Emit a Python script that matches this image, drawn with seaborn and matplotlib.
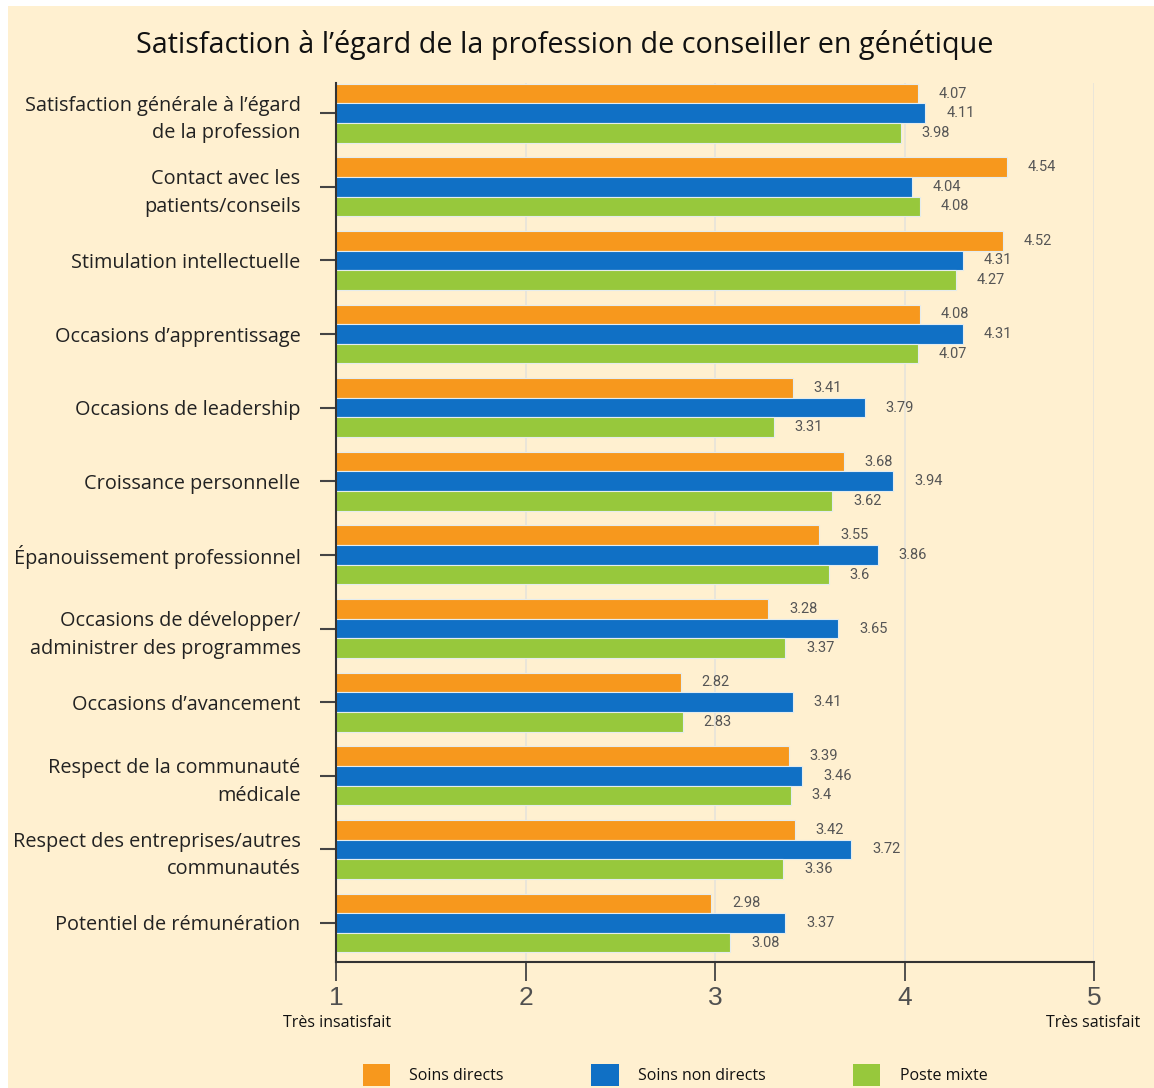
import matplotlib
matplotlib.use("Agg")
import matplotlib.pyplot as plt
from matplotlib.patches import Patch, Rectangle
import seaborn as sns
import pandas as pd

categories = [
    "Satisfaction générale à l’égard\nde la profession",
    "Contact avec les\npatients/conseils",
    "Stimulation intellectuelle",
    "Occasions d’apprentissage",
    "Occasions de leadership",
    "Croissance personnelle",
    "Épanouissement professionnel",
    "Occasions de développer/\nadministrer des programmes",
    "Occasions d’avancement",
    "Respect de la communauté\nmédicale",
    "Respect des entreprises/autres\ncommunautés",
    "Potentiel de rémunération",
]
series_names = ["Soins directs", "Soins non directs", "Poste mixte"]
soins_directs = [4.07, 4.54, 4.52, 4.08, 3.41, 3.68, 3.55, 3.28, 2.82, 3.39, 3.42, 2.98]
soins_non_directs = [4.11, 4.04, 4.31, 4.31, 3.79, 3.94, 3.86, 3.65, 3.41, 3.46, 3.72, 3.37]
poste_mixte = [3.98, 4.08, 4.27, 4.07, 3.31, 3.62, 3.6, 3.37, 2.83, 3.4, 3.36, 3.08]
value_labels = [
    ["4.07", "4.54", "4.52", "4.08", "3.41", "3.68", "3.55", "3.28", "2.82", "3.39", "3.42", "2.98"],
    ["4.11", "4.04", "4.31", "4.31", "3.79", "3.94", "3.86", "3.65", "3.41", "3.46", "3.72", "3.37"],
    ["3.98", "4.08", "4.27", "4.07", "3.31", "3.62", "3.6", "3.37", "2.83", "3.4", "3.36", "3.08"],
]
x_ticks = [1, 2, 3, 4, 5]
colors = ["#F7981D", "#1070C5", "#97C83C"]
cream = "#FFF0D0"

rows = []
for name, vals in zip(series_names, [soins_directs, soins_non_directs, poste_mixte]):
    for c, v in zip(categories, vals):
        rows.append({"cat": c, "series": name, "value": v})
df = pd.DataFrame(rows)

sns.set_theme(style="white")
plt.rcParams["font.family"] = ["Open Sans", "DejaVu Sans"]

fig = plt.figure(figsize=(11.54, 10.88), dpi=100)
fig.patch.set_facecolor("white")
fig.patches.append(Rectangle((8 / 1154, 0), 1 - 8 / 1154, 1 - 6 / 1088,
                             transform=fig.transFigure, facecolor=cream,
                             edgecolor="none", zorder=-10))

ax = fig.add_axes([336 / 1154, 1 - 962 / 1088, 758 / 1154, 879 / 1088])
ax.set_facecolor(cream)

sns.barplot(data=df, y="cat", x="value", hue="series", orient="h",
            palette=colors, saturation=1, width=0.8, ax=ax, legend=False,
            edgecolor="#E4ECEE", linewidth=0.8)

ax.set_xlim(1, 5)
ax.set_ylim(11.53, -0.41)
ax.set_xticks(x_ticks)
ax.set_xticklabels([str(t) for t in x_ticks], fontsize=19, color="#505050",
                   family=["Liberation Sans", "DejaVu Sans"])
ax.set_xlabel("")
ax.set_ylabel("")
ax.tick_params(axis="y", labelsize=14.3, labelcolor="#222222", length=11.5,
               width=1.5, color="#444444", left=True, pad=14)
ax.tick_params(axis="x", length=14, width=1.3, color="#444444", bottom=True, pad=3)
for lab in ax.get_yticklabels():
    lab.set_horizontalalignment("right")
    lab.set_multialignment("right")
    lab.set_linespacing(1.5)

ax.grid(axis="x", color="#E6E3DA", linewidth=1.2)
ax.grid(axis="y", visible=False)
ax.set_axisbelow(True)
for s in ["top", "right"]:
    ax.spines[s].set_visible(False)
ax.spines["left"].set_color("#333333")
ax.spines["left"].set_linewidth(1.5)
ax.spines["bottom"].set_color("#333333")
ax.spines["bottom"].set_linewidth(1.5)

for container, labels in zip(ax.containers, value_labels):
    ax.bar_label(container, labels=labels, padding=15, fontsize=10.5,
                 color="#555555", family=["Roboto", "DejaVu Sans"])

fig.text(0.489, 1 - 45 / 1088, "Satisfaction à l’égard de la profession de conseiller en génétique",
         ha="center", va="center", fontsize=20.7, color="#111111")
fig.text(337 / 1154, 1 - 1023 / 1088, "Très insatisfait", ha="center", va="center",
         fontsize=11.5, color="#111111")
fig.text(1093 / 1154, 1 - 1023 / 1088, "Très satisfait", ha="center", va="center",
         fontsize=11.5, color="#111111")

handles = [Patch(facecolor=c, edgecolor="none") for c in colors]
fig.legend(handles, series_names, loc="center", bbox_to_anchor=(0.585, 1 - 1075 / 1088),
           ncol=3, frameon=False, fontsize=11.5, handlelength=1.7, handleheight=1.7,
           handletextpad=1.2, columnspacing=5.5, labelcolor="#111111")

fig.savefig("out.png", dpi=100, facecolor=fig.get_facecolor())
